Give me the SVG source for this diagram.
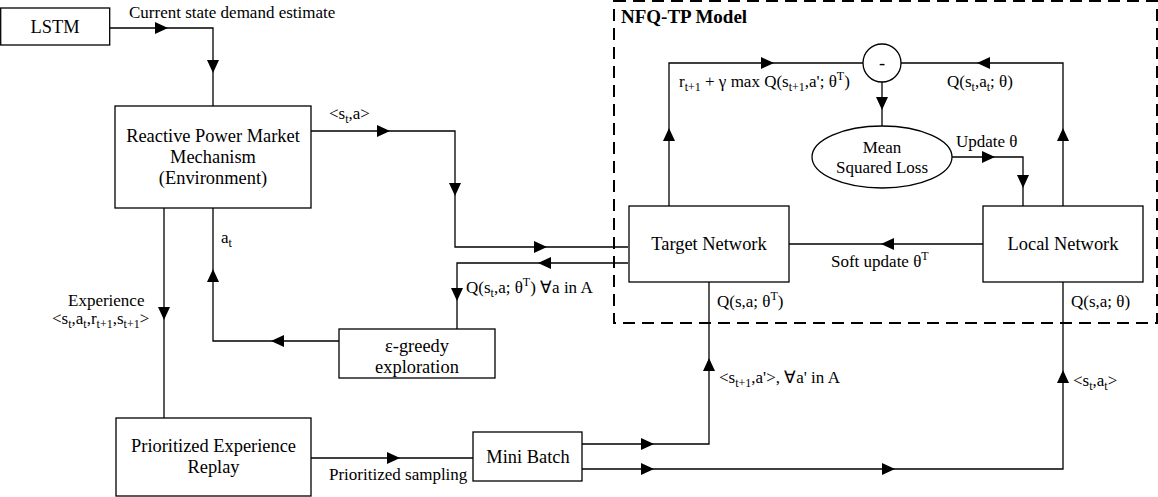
<svg xmlns="http://www.w3.org/2000/svg" xmlns:xlink="http://www.w3.org/1999/xlink" width="1158" height="497" viewBox="0 0 1158 497">
<style>
.box{fill:#fff;stroke:#000;stroke-width:1.3}
.ln{fill:none;stroke:#000;stroke-width:1.3}
.dash{fill:none;stroke:#000;stroke-width:2;stroke-dasharray:12 7}
text{font-family:"Liberation Serif","Times New Roman",serif;fill:#000}
.bt{font-size:18.4px;text-anchor:middle}
.lb{font-size:17px}
.s{font-size:12px}
</style>
<defs>
<path id="ah" d="M-13,-6 L0,0 L-13,6 Z" fill="#000"/>
</defs>
<rect class="dash" x="614" y="1" width="543" height="322"/>
<text x="621" y="23" style="font-size:19px;font-weight:bold">NFQ-TP Model</text>
<g id="connectors">
<path class="ln" d="M110,28 H213 V106"/>
<use xlink:href="#ah" transform="translate(168,28)"/>
<use xlink:href="#ah" transform="translate(213,73) rotate(90)"/>
<path class="ln" d="M311,131 H455 V247 H628"/>
<use xlink:href="#ah" transform="translate(390,131)"/>
<use xlink:href="#ah" transform="translate(455,196) rotate(90)"/>
<use xlink:href="#ah" transform="translate(547,247)"/>
<path class="ln" d="M628,263 H457 V329"/>
<use xlink:href="#ah" transform="translate(538,263) rotate(180)"/>
<use xlink:href="#ah" transform="translate(457,301) rotate(90)"/>
<path class="ln" d="M339,341 H213 V208"/>
<use xlink:href="#ah" transform="translate(271,341) rotate(180)"/>
<use xlink:href="#ah" transform="translate(213,269) rotate(-90)"/>
<path class="ln" d="M164,208 V418"/>
<use xlink:href="#ah" transform="translate(164,320) rotate(90)"/>
<path class="ln" d="M311,458 H473"/>
<use xlink:href="#ah" transform="translate(400,458)"/>
<path class="ln" d="M582,444 H709 V282"/>
<use xlink:href="#ah" transform="translate(654,444)"/>
<use xlink:href="#ah" transform="translate(709,358) rotate(-90)"/>
<path class="ln" d="M582,469 H1063 V282"/>
<use xlink:href="#ah" transform="translate(654,469)"/>
<use xlink:href="#ah" transform="translate(895,469)"/>
<use xlink:href="#ah" transform="translate(1063,370) rotate(-90)"/>
<path class="ln" d="M983,244 H789"/>
<use xlink:href="#ah" transform="translate(881,244) rotate(180)"/>
<path class="ln" d="M669,206 V63 H863"/>
<use xlink:href="#ah" transform="translate(669,128) rotate(-90)"/>
<use xlink:href="#ah" transform="translate(774,63)"/>
<path class="ln" d="M1063,206 V63 H901"/>
<use xlink:href="#ah" transform="translate(1063,128) rotate(-90)"/>
<use xlink:href="#ah" transform="translate(977,63) rotate(180)"/>
<path class="ln" d="M882,82 V126"/>
<use xlink:href="#ah" transform="translate(882,110) rotate(90)"/>
<path class="ln" d="M952,157 H1023 V206"/>
<use xlink:href="#ah" transform="translate(995,157)"/>
<use xlink:href="#ah" transform="translate(1023,188) rotate(90)"/>
</g>
<g id="labels">
<text class="lb" x="129" y="18">Current state demand estimate</text>
<text class="lb" x="329" y="119">&lt;s<tspan class="s" dy="4">t</tspan><tspan dy="-4">,a&gt;</tspan></text>
<text class="lb" x="221" y="243">a<tspan class="s" dy="4">t</tspan></text>
<text class="lb" x="68" y="306">Experience</text>
<text class="lb" x="52" y="324">&lt;s<tspan class="s" dy="4">t</tspan><tspan dy="-4">,a</tspan><tspan class="s" dy="4">t</tspan><tspan dy="-4">,r</tspan><tspan class="s" dy="4">t+1</tspan><tspan dy="-4">,s</tspan><tspan class="s" dy="4">t+1</tspan><tspan dy="-4">&gt;</tspan></text>
<text class="lb" x="466" y="293">Q(s<tspan class="s" dy="4">t</tspan><tspan dy="-4">,a; θ</tspan><tspan class="s" dy="-7">T</tspan><tspan dy="7">) ∀a in A</tspan></text>
<text class="lb" x="329" y="480">Prioritized sampling</text>
<text class="lb" x="679" y="87">r<tspan class="s" dy="4">t+1</tspan><tspan dy="-4"> + γ max Q(s</tspan><tspan class="s" dy="4">t+1</tspan><tspan dy="-4">,a'; θ</tspan><tspan class="s" dy="-7">T</tspan><tspan dy="7">)</tspan></text>
<text class="lb" x="947" y="87">Q(s<tspan class="s" dy="4">t</tspan><tspan dy="-4">,a</tspan><tspan class="s" dy="4">t</tspan><tspan dy="-4">; θ)</tspan></text>
<text class="lb" x="956" y="147">Update θ</text>
<text class="lb" x="831" y="267">Soft update θ<tspan class="s" dy="-7">T</tspan></text>
<text class="lb" x="717" y="307">Q(s,a; θ<tspan class="s" dy="-7">T</tspan><tspan dy="7">)</tspan></text>
<text class="lb" x="1071" y="307">Q(s,a; θ)</text>
<text class="lb" x="719" y="383">&lt;s<tspan class="s" dy="4">t+1</tspan><tspan dy="-4">,a'&gt;, ∀a' in A</tspan></text>
<text class="lb" x="1073" y="386">&lt;s<tspan class="s" dy="4">t</tspan><tspan dy="-4">,a</tspan><tspan class="s" dy="4">t</tspan><tspan dy="-4">&gt;</tspan></text>
</g>
<g id="lstm">
<rect class="box" x="0.7" y="8" width="109" height="37"/>
<text class="bt" x="55" y="33">LSTM</text>
</g>
<g id="environment">
<rect class="box" x="115" y="106" width="196" height="102"/>
<text class="bt" x="213" y="142">Reactive Power Market</text>
<text class="bt" x="213" y="163">Mechanism</text>
<text class="bt" x="213" y="184">(Environment)</text>
</g>
<g id="egreedy">
<rect class="box" x="339" y="329" width="156" height="49"/>
<text class="bt" x="417" y="352">ε-greedy</text>
<text class="bt" x="417" y="373">exploration</text>
</g>
<g id="per">
<rect class="box" x="116" y="418" width="195" height="78"/>
<text class="bt" x="213.5" y="452">Prioritized Experience</text>
<text class="bt" x="213.5" y="473">Replay</text>
</g>
<g id="minibatch">
<rect class="box" x="473" y="432" width="109" height="49"/>
<text class="bt" x="528" y="463">Mini Batch</text>
</g>
<g id="target">
<rect class="box" x="629" y="206" width="160" height="76"/>
<text class="bt" x="709" y="250">Target Network</text>
</g>
<g id="local">
<rect class="box" x="983" y="206" width="160" height="76"/>
<text class="bt" x="1063" y="250">Local Network</text>
</g>
<g id="minus">
<circle class="box" cx="882" cy="63" r="19"/>
<text class="bt" x="882" y="69">-</text>
</g>
<g id="mse">
<ellipse class="box" cx="882" cy="157" rx="70" ry="31"/>
<text class="lb" x="882" y="153" text-anchor="middle">Mean</text>
<text class="lb" x="882" y="173" text-anchor="middle">Squared Loss</text>
</g>
</svg>
